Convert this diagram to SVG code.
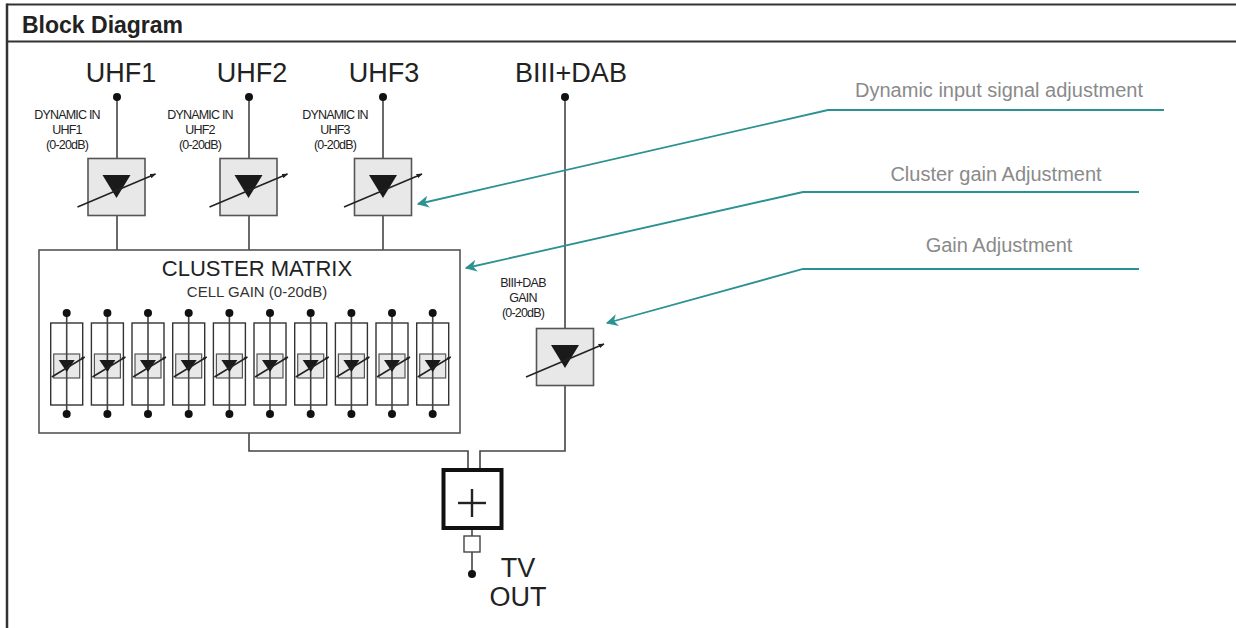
<svg xmlns="http://www.w3.org/2000/svg" xmlns:xlink="http://www.w3.org/1999/xlink" width="1236" height="628" viewBox="0 0 1236 628">
<style>
text{font-family:"Liberation Sans",Arial,sans-serif}
.ln{stroke:#444;stroke-width:1.6;fill:none}
.box{fill:#e8e8e8;stroke:#555;stroke-width:1.6}
.tri{fill:#1a1a1a}
.adj{stroke:#222;stroke-width:1.5;fill:none}
.dot{fill:#111}
.teal{stroke:#2b9191;stroke-width:1.8;fill:none}
.lbl{font-size:12.5px;fill:#222;text-anchor:middle;letter-spacing:-0.8px}
.big{font-size:27px;fill:#222;text-anchor:middle}
.note{font-size:20px;fill:#8a8a8a;text-anchor:middle}
</style>
<defs>
<marker id="ah" viewBox="0 0 10 10" refX="9" refY="5" markerWidth="6" markerHeight="6" orient="auto" markerUnits="userSpaceOnUse">
<path d="M0,1 L10,5 L0,9 Z" fill="#222"/>
</marker>
<marker id="ahs" viewBox="0 0 10 10" refX="9" refY="5" markerWidth="4" markerHeight="4" orient="auto" markerUnits="userSpaceOnUse">
<path d="M0,1 L10,5 L0,9 Z" fill="#222"/>
</marker>
<marker id="tah" viewBox="0 0 10 10" refX="9" refY="5" markerWidth="14" markerHeight="12" orient="auto" markerUnits="userSpaceOnUse">
<path d="M0,0 L10,5 L0,10 L3,5 Z" fill="#2b9191"/>
</marker>
<g id="amp">
<rect class="box" x="-28.5" y="-28.5" width="57" height="57"/>
<path class="tri" d="M-14,-12 L14,-12 L0,11 Z"/>
<line class="adj" x1="-39" y1="20" x2="39" y2="-13" marker-end="url(#ah)"/>
</g>
<g id="cell">
<rect x="-16" y="323" width="32" height="82" fill="#fff" stroke="#333" stroke-width="1.4"/>
<rect x="-13" y="354" width="26" height="24" fill="#e8e8e8" stroke="#555" stroke-width="1.2"/>
<line class="ln" x1="0" y1="313" x2="0" y2="414"/>
<path class="tri" d="M-8,360 L8,360 L0,372 Z"/>
<line class="adj" x1="-15" y1="377" x2="18" y2="357" stroke-width="1.3" marker-end="url(#ahs)"/>
<circle class="dot" cx="0" cy="313" r="4"/>
<circle class="dot" cx="0" cy="414" r="4"/>
</g>
</defs>

<g id="frame">
<line x1="7" y1="4.5" x2="1236" y2="4.5" stroke="#333" stroke-width="2"/>
<line x1="7" y1="41.5" x2="1236" y2="41.5" stroke="#333" stroke-width="2"/>
<line x1="7" y1="3.5" x2="7" y2="628" stroke="#333" stroke-width="2.5"/>
<text x="22" y="33" font-size="23" font-weight="bold" fill="#222">Block Diagram</text>
</g>

<g id="connectors">
<line class="ln" x1="117" y1="97" x2="117" y2="159"/>
<line class="ln" x1="117" y1="215" x2="117" y2="250"/>
<line class="ln" x1="249" y1="97" x2="249" y2="159"/>
<line class="ln" x1="249" y1="215" x2="249" y2="250"/>
<line class="ln" x1="383" y1="97" x2="383" y2="159"/>
<line class="ln" x1="383" y1="215" x2="383" y2="250"/>
<line class="ln" x1="565" y1="97" x2="565" y2="328"/>
<polyline class="ln" points="565,386 565,451 480,451 480,470"/>
<polyline class="ln" points="249,433 249,451 468,451 468,470"/>
<line class="ln" x1="472" y1="528" x2="472" y2="536"/>
<line class="ln" x1="472" y1="552" x2="472" y2="574"/>
<polyline class="teal" points="1164,110 828,110 418,204" marker-end="url(#tah)"/>
<polyline class="teal" points="1139,192 803,192 466,268" marker-end="url(#tah)"/>
<polyline class="teal" points="1139,269 803,269 607,323" marker-end="url(#tah)"/>
</g>

<g id="uhf1">
<text class="big" x="121" y="82">UHF1</text>
<circle class="dot" cx="117" cy="97" r="4"/>
<text class="lbl" x="67" y="119">DYNAMIC IN</text>
<text class="lbl" x="67" y="134">UHF1</text>
<text class="lbl" x="67" y="149">(0-20dB)</text>
<use xlink:href="#amp" transform="translate(116.5,187)"/>
</g>
<g id="uhf2">
<text class="big" x="252" y="82">UHF2</text>
<circle class="dot" cx="249" cy="97" r="4"/>
<text class="lbl" x="200" y="119">DYNAMIC IN</text>
<text class="lbl" x="200" y="134">UHF2</text>
<text class="lbl" x="200" y="149">(0-20dB)</text>
<use xlink:href="#amp" transform="translate(248.5,187)"/>
</g>
<g id="uhf3">
<text class="big" x="384" y="82">UHF3</text>
<circle class="dot" cx="383" cy="97" r="4"/>
<text class="lbl" x="335" y="119">DYNAMIC IN</text>
<text class="lbl" x="335" y="134">UHF3</text>
<text class="lbl" x="335" y="149">(0-20dB)</text>
<use xlink:href="#amp" transform="translate(383,187)"/>
</g>
<g id="biii">
<text class="big" x="571" y="82">BIII+DAB</text>
<circle class="dot" cx="565" cy="97" r="4"/>
<text class="lbl" x="523" y="287">BIII+DAB</text>
<text class="lbl" x="523" y="302">GAIN</text>
<text class="lbl" x="523" y="317">(0-20dB)</text>
<use xlink:href="#amp" transform="translate(565,357)"/>
</g>

<g id="cluster">
<rect x="39" y="250" width="421" height="183" fill="#fff" stroke="#555" stroke-width="1.6"/>
<text x="257" y="276" font-size="22" fill="#222" text-anchor="middle">CLUSTER MATRIX</text>
<text x="257" y="297" font-size="15" fill="#333" text-anchor="middle">CELL GAIN (0-20dB)</text>
<use xlink:href="#cell" transform="translate(66.7,0)"/>
<use xlink:href="#cell" transform="translate(107.4,0)"/>
<use xlink:href="#cell" transform="translate(148,0)"/>
<use xlink:href="#cell" transform="translate(188.7,0)"/>
<use xlink:href="#cell" transform="translate(229.4,0)"/>
<use xlink:href="#cell" transform="translate(270,0)"/>
<use xlink:href="#cell" transform="translate(310.7,0)"/>
<use xlink:href="#cell" transform="translate(351.4,0)"/>
<use xlink:href="#cell" transform="translate(392,0)"/>
<use xlink:href="#cell" transform="translate(432.7,0)"/>
</g>

<g id="combiner">
<rect x="443.5" y="470" width="58" height="58" fill="#fff" stroke="#111" stroke-width="4"/>
<line x1="458" y1="503" x2="486" y2="503" stroke="#222" stroke-width="2.4"/>
<line x1="472" y1="489" x2="472" y2="517" stroke="#222" stroke-width="2.4"/>
</g>

<g id="tvout">
<rect x="464" y="536" width="16" height="16" fill="#fff" stroke="#444" stroke-width="1.4"/>
<circle class="dot" cx="472" cy="574" r="4"/>
<text class="big" x="518" y="577">TV</text>
<text class="big" x="518" y="606">OUT</text>
</g>

<g id="notes">
<text class="note" x="999" y="97">Dynamic input signal adjustment</text>
<text class="note" x="996" y="181">Cluster gain Adjustment</text>
<text class="note" x="999" y="252">Gain Adjustment</text>
</g>
</svg>
